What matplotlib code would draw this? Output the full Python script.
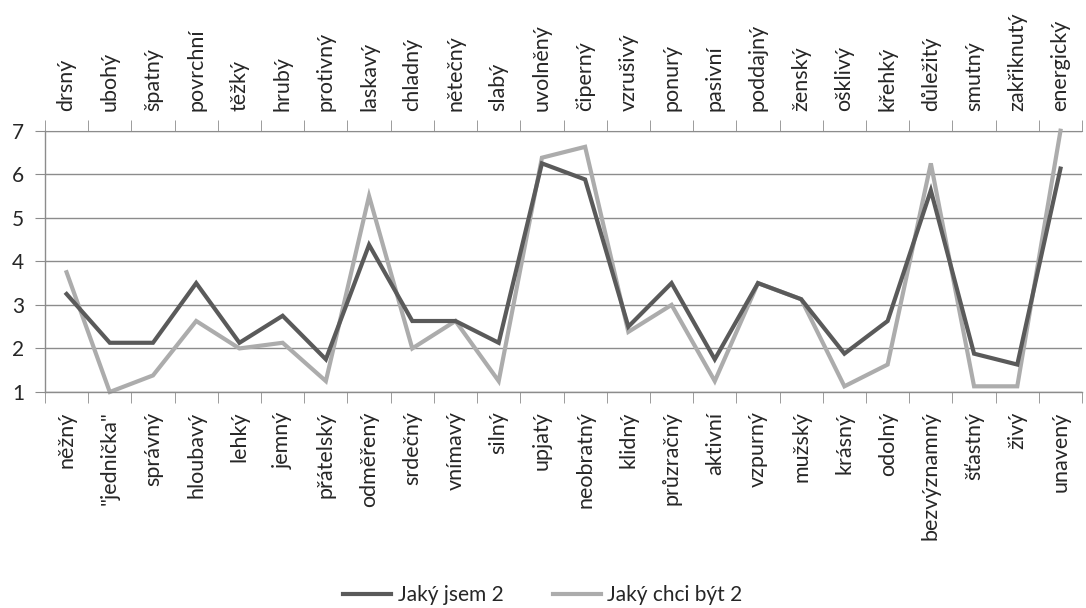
import matplotlib
matplotlib.use("Agg")
import matplotlib.pyplot as plt
import numpy as np

# Semantic differential: lower pole words (bottom) and upper pole words (top)
bottom_words = ["něžný", "\"jednička\"", "správný", "hloubavý", "lehký", "jemný",
                "přátelský", "odměřený", "srdečný", "vnímavý", "silný", "upjatý",
                "neobratný", "klidný", "průzračný", "aktivní", "vzpurný", "mužský",
                "krásný", "odolný", "bezvýznamný", "šťastný", "živý", "unavený"]
top_words = ["drsný", "ubohý", "špatný", "povrchní", "těžký", "hrubý",
             "protivný", "laskavý", "chladný", "nětečný", "slabý", "uvolněný",
             "čiperný", "vzrušivý", "ponurý", "pasivní", "poddajný", "ženský",
             "ošklivý", "křehký", "důležitý", "smutný", "zakřiknutý", "energický"]

jaky_jsem = [3.25, 2.13, 2.13, 3.5, 2.13, 2.75, 1.75, 4.38, 2.63, 2.63, 2.13, 6.25,
             5.88, 2.5, 3.5, 1.75, 3.5, 3.13, 1.88, 2.63, 5.63, 1.88, 1.63, 6.13]
jaky_chci = [3.75, 1.0, 1.38, 2.63, 2.0, 2.13, 1.25, 5.5, 2.0, 2.63, 1.25, 6.38,
             6.63, 2.38, 3.0, 1.25, 3.5, 3.13, 1.13, 1.63, 6.25, 1.13, 1.13, 7.0]
y_ticks = [1, 2, 3, 4, 5, 6, 7]

plt.rcParams['font.family'] = ['Lato', 'DejaVu Sans']
text_color = '#262626'
grid_color = '#8c8c8c'
label_size = 15.5

fig = plt.figure(figsize=(10.86, 6.08), dpi=100)
ax = fig.add_axes([0.0414, 0.3553, 0.955, 0.4297])

x = np.arange(len(bottom_words))
ax.plot(x, jaky_jsem, color='#5a5a5a', lw=3.0, label='Jaký jsem 2', clip_on=False,
        solid_joinstyle='miter', zorder=3)
ax.plot(x, jaky_chci, color='#acacac', lw=3.0, label='Jaký chci být 2', clip_on=False,
        solid_joinstyle='miter', zorder=2)

ax.set_xlim(-0.5, 23.4)
ax.set_ylim(1, 7)
ax.set_yticks(y_ticks)
ax.yaxis.grid(True, color=grid_color, lw=1)
ax.set_axisbelow(True)

for side in ['right', 'top']:
    ax.spines[side].set_visible(False)
for side in ['left', 'bottom']:
    ax.spines[side].set_color(grid_color)
    ax.spines[side].set_linewidth(1)

# category labels at centres, tick marks at boundaries
ax.set_xticks(x, labels=bottom_words, rotation=90, fontsize=label_size, color=text_color)
ax.set_xticks(np.arange(-0.5, len(x), 1.0), minor=True)
ax.tick_params(axis='x', which='major', length=0, pad=14)
ax.tick_params(axis='x', which='minor', length=8, color=grid_color, direction='out')
ax.tick_params(axis='y', length=7, color=grid_color, labelsize=15, labelcolor=text_color, pad=8)
for lbl in ax.get_xticklabels():
    lbl.set_verticalalignment('top')

top = ax.secondary_xaxis('top')
top.set_xticks(x, labels=top_words, rotation=90, fontsize=label_size, color=text_color)
top.set_xticks(np.arange(-0.5, len(x), 1.0), minor=True)
top.tick_params(axis='x', which='major', length=0, pad=14)
top.tick_params(axis='x', which='minor', length=8, color=grid_color, direction='out')
top.spines['top'].set_color(grid_color)

fig.legend(loc='center', bbox_to_anchor=(0.5, 0.021), ncol=2, frameon=False,
           fontsize=15, handlelength=2.3, columnspacing=2.4, handletextpad=0.3,
           labelcolor=text_color)

fig.savefig('out.png', dpi=100)
